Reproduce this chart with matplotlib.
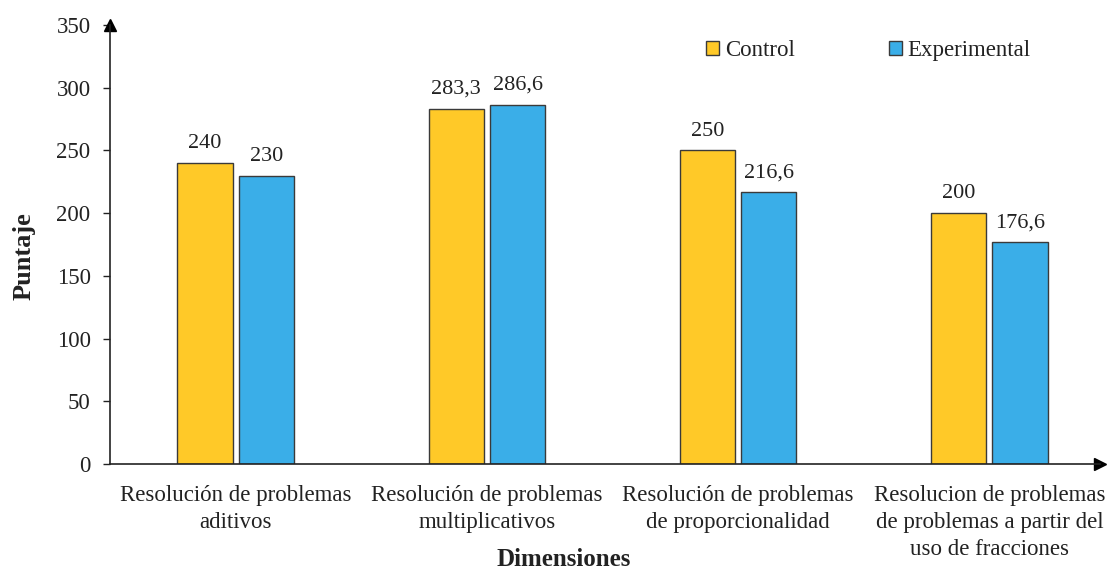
import matplotlib.pyplot as plt
import numpy as np

plt.rcParams['font.family'] = ['Liberation Serif', 'DejaVu Serif']

# Puntajes por dimension y grupo
dimensiones = [
    "Resolución de problemas\naditivos",
    "Resolución de problemas\nmultiplicativos",
    "Resolución de problemas\nde proporcionalidad",
    "Resolucion de problemas\nde problemas a partir del\nuso de fracciones",
]
control = [240, 283.3, 250, 200]
experimental = [230, 286.6, 216.6, 176.6]
grupos = ["Control", "Experimental"]

amarillo = '#FFC928'
azul = '#3AAEE8'
borde = '#3a3a3a'
texto = '#222222'

fig = plt.figure(figsize=(11.07, 5.71), dpi=100)
ax = fig.add_axes([110 / 1107, 1 - 464 / 571, 990 / 1107, 439 / 571])

x = np.arange(len(dimensiones))
ancho = 0.22
sep = 0.122

b1 = ax.bar(x - sep, control, ancho, color=amarillo, edgecolor=borde, linewidth=1, label=grupos[0])
b2 = ax.bar(x + sep, experimental, ancho, color=azul, edgecolor=borde, linewidth=1, label=grupos[1])

def etiqueta(v):
    return f"{v:g}".replace('.', ',')

for barras, vals in ((b1, control), (b2, experimental)):
    for rect, v in zip(barras, vals):
        ax.annotate(etiqueta(v), (rect.get_x() + rect.get_width() / 2, v),
                    xytext=(0, 7), textcoords='offset points',
                    ha='center', va='bottom', fontsize=16, color=texto)

ax.set_xlim(-0.5, 3.44)
ax.set_ylim(0, 350)
ax.set_yticks(range(0, 351, 50))
ax.tick_params(axis='y', labelsize=16.5, length=5, width=1, colors=texto, pad=9)
ax.set_xticks(x)
ax.set_xticklabels(dimensiones, fontsize=16.5, color=texto, linespacing=1.38)
ax.tick_params(axis='x', length=0, pad=15)

for s in ('top', 'right'):
    ax.spines[s].set_visible(False)
for s in ('left', 'bottom'):
    ax.spines[s].set_linewidth(1.2)
    ax.spines[s].set_color(texto)

# flechas de los ejes
ax.plot(0, 1, marker='^', markersize=8, color='black', transform=ax.transAxes, clip_on=False)
ax.plot(1, 0, marker='>', markersize=8, color='black', transform=ax.transAxes, clip_on=False)

fig.text(24 / 1107, 1 - 256 / 571, "Puntaje", rotation=90, fontsize=19,
         fontweight='bold', ha='center', va='center', color=texto)
fig.text(564 / 1107, 1 - 560 / 571, "Dimensiones", fontsize=18,
         fontweight='bold', ha='center', va='center', color=texto)

ax.legend(loc='upper left', bbox_to_anchor=(0.602, 0.966), ncol=2, frameon=False,
          fontsize=16.5, handlelength=0.57, handleheight=0.57, handletextpad=0.25,
          columnspacing=4.1, borderpad=0, borderaxespad=0, labelcolor=texto)

fig.savefig('out.png', dpi=100, facecolor='white')
